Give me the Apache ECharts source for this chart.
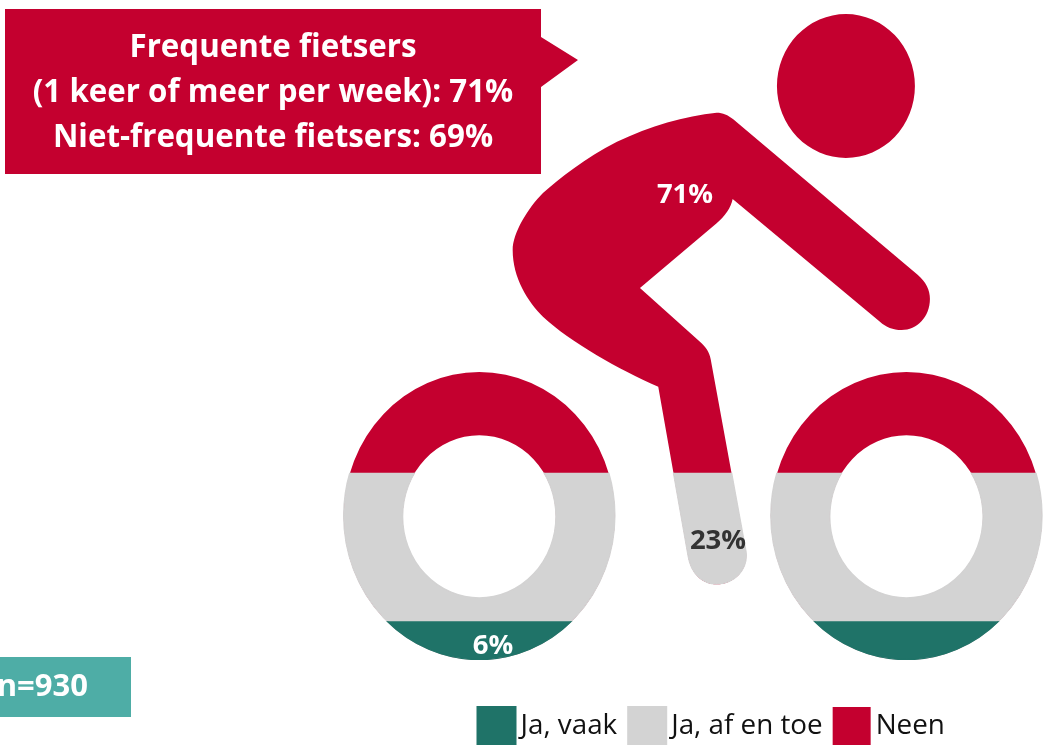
<!DOCTYPE html>
<html><head><meta charset="utf-8">
<style>html,body{margin:0;padding:0;background:#fff}#c{width:1043px;height:745px}</style>
<script src="https://cdn.jsdelivr.net/npm/echarts@6/dist/echarts.min.js"></script>
</head><body><div id="c"></div>
<script>
const categories = ['Fietsers'];
const seriesNames = ['Ja, vaak', 'Ja, af en toe', 'Neen'];
const values = [6, 23, 71];
const colors = ['#1F7368', '#D3D3D3', '#C4002F'];
const calloutLines = ['Frequente fietsers', '(1 keer of meer per week): 71%', 'Niet-frequente fietsers: 69%'];
const sampleLabel = 'n=930';

const FONT = '"Open Sans", sans-serif';
const wheel = (cx, cy, rx, ry, irx, iry, icy) =>
  `M${cx - rx} ${cy}A${rx} ${ry} 0 1 1 ${cx + rx} ${cy}A${rx} ${ry} 0 1 1 ${cx - rx} ${cy}Z` +
  `M${cx - irx} ${icy}A${irx} ${iry} 0 1 0 ${cx + irx} ${icy}A${irx} ${iry} 0 1 0 ${cx - irx} ${icy}Z`;
const head = 'M777 86A69 72 0 1 1 915 86A69 72 0 1 1 777 86Z';
const body = 'M716.7 112.7C723 112.7 728 115 733 119L918 275C926 282 930 290 930 299C930 317 917 330 901.7 330' +
  'C893 330 886 327 880 321.7L732.7 199C731 208 725 216 716.7 223.3L640 288L700 341.7C706 347 709.5 352 710.7 359' +
  'L746 551.7C748.5 570 734 584.3 716.7 584.3C702 584.3 691 573 688.3 556.7L658.3 386.7' +
  'C620 370 570 342 543 316.7C528 302 512.7 278 512.7 250C512.7 233 528 208 543 193' +
  'C560 178 585 158 617 141.7C650 126 685 116 716.7 112.7Z';
const cyclist = 'path://' + head + body + wheel(479.3, 516, 135.6, 144, 76.7, 81.5, 516.8) + wheel(906.5, 516, 135.6, 144, 76.7, 81.5, 516.8);

let cumulative = 0;
const tops = values.map(v => (cumulative += v));
const total = cumulative;

const series = seriesNames.map((name, i) => ({
  type: 'pictorialBar', name,
  data: [tops[i]],
  symbol: cyclist,
  symbolSize: ['100%', '100%'],
  symbolBoundingData: total,
  symbolClip: true,
  barWidth: '100%', barGap: '-100%',
  z: 10 - i,
  itemStyle: { color: colors[i], borderColor: i < 2 ? colors[i] : 'transparent', borderWidth: i < 2 ? 0.8 : 0 },
  silent: true
}));

const valueText = (i, x, y, fill) => ({
  type: 'text', z: 100, x, y,
  style: { text: values[i] + '%', fill, font: 'bold 27.5px ' + FONT, align: 'center', verticalAlign: 'middle' }
});

const chart = echarts.init(document.getElementById('c'), null, { renderer: 'canvas' });
chart.setOption({
  animation: false,
  backgroundColor: '#fff',
  grid: { left: 343.7, width: 698.3, top: 14, height: 646 },
  xAxis: { type: 'category', data: categories, show: false },
  yAxis: { type: 'value', min: 0, max: total, show: false },
  legend: {
    left: 471.5, top: 701, itemWidth: 38, itemHeight: 39, itemGap: 10,
    icon: 'rect', selectedMode: false, data: seriesNames,
    textStyle: { fontFamily: FONT, fontSize: 27.8, color: '#111', padding: [6, 0, 0, 0] }
  },
  series,
  graphic: [
    { type: 'polygon', z: 50, shape: { points: [[5, 9], [541, 9], [541, 37], [578, 60], [541, 87], [541, 174], [5, 174]] }, style: { fill: colors[2] } },
    ...calloutLines.map((t, i) => ({
      type: 'text', z: 51, x: 273, y: 48.5 + i * 45,
      style: { text: t, fill: '#fff', font: 'bold 31.3px ' + FONT, align: 'center', verticalAlign: 'middle' }
    })),
    { type: 'rect', z: 50, shape: { x: 0, y: 657, width: 131, height: 60 }, style: { fill: '#4EADA6' } },
    { type: 'text', z: 51, x: 88, y: 687, style: { text: sampleLabel, fill: '#fff', font: 'bold 31px ' + FONT, align: 'right', verticalAlign: 'middle' } },
    valueText(2, 685, 195, '#fff'),
    valueText(1, 718, 541, '#333'),
    valueText(0, 493, 646, '#fff')
  ]
});
</script></body></html>
